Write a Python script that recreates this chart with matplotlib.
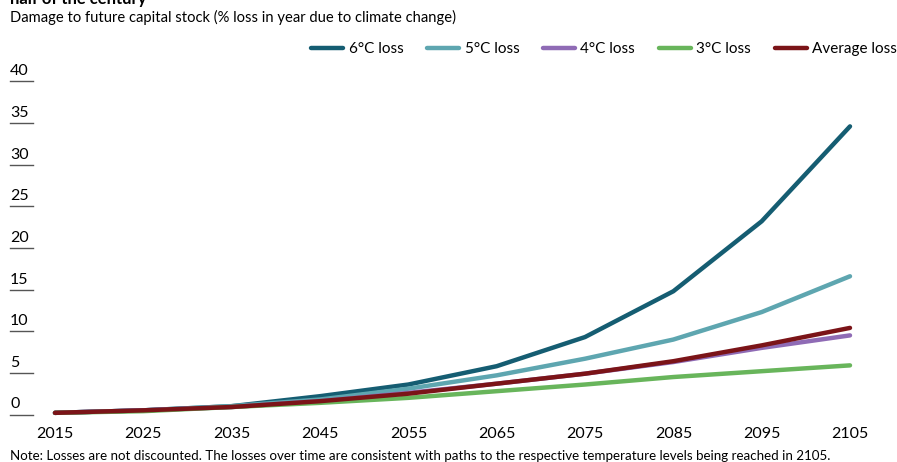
import matplotlib
matplotlib.use("Agg")
import matplotlib.pyplot as plt
from matplotlib import transforms

plt.rcParams['font.family'] = ['Lato', 'DejaVu Sans']

years = [2015, 2025, 2035, 2045, 2055, 2065, 2075, 2085, 2095, 2105]
loss_6c = [0.2, 0.5, 1.0, 2.2, 3.6, 5.8, 9.3, 14.8, 23.2, 34.6]
loss_5c = [0.2, 0.5, 1.0, 1.8, 3.1, 4.7, 6.7, 9.0, 12.3, 16.6]
loss_4c = [0.2, 0.5, 0.9, 1.6, 2.6, 3.7, 4.9, 6.3, 8.0, 9.5]
loss_3c = [0.2, 0.4, 0.9, 1.4, 2.0, 2.8, 3.6, 4.5, 5.2, 5.9]
loss_avg = [0.2, 0.5, 0.9, 1.6, 2.5, 3.7, 4.9, 6.4, 8.3, 10.4]
y_ticks = [0, 5, 10, 15, 20, 25, 30, 35, 40]

W, H = 897, 462
fig = plt.figure(figsize=(W / 100, H / 100), dpi=100)
# axes placed in pixel terms: 2015 -> x=55, 2105 -> x=850, 0 -> y=414.5, 40 -> y=81
ax = fig.add_axes([55 / W, (H - 414.5) / H, (850 - 55) / W, (414.5 - 81.4) / H])
ax.set_xlim(2015, 2105)
ax.set_ylim(0, 40)
for s in ax.spines.values():
    s.set_visible(False)

series = [
    (loss_6c, "#155d72", "6°C loss"),
    (loss_5c, "#5ea6b0", "5°C loss"),
    (loss_4c, "#8f6bb5", "4°C loss"),
    (loss_3c, "#68b55b", "3°C loss"),
    (loss_avg, "#7b1418", "Average loss"),
]
for vals, col, lab in series:
    ax.plot(years, vals, color=col, lw=3.2, label=lab, clip_on=False,
            solid_capstyle="round")

ax.set_xticks(years)
ax.set_xticklabels([str(y) for y in years], fontsize=11.5)
ax.tick_params(axis="x", length=0, pad=9)
ax.set_yticks([])

# y tick labels sit above short underlines at the left edge
tr = transforms.blended_transform_factory(fig.transFigure, ax.transData)
ttr = transforms.offset_copy(tr, fig=fig, y=3, units="dots")
for v in y_ticks:
    ax.text(10 / W, v, str(v), transform=ttr, fontsize=11.5, va="bottom", ha="left")
    ax.plot([10 / W, 33 / W], [v, v], transform=tr, color="#555555", lw=1,
            clip_on=False)

leg = ax.legend(ncol=5, loc="upper right", bbox_to_anchor=(897 / W, (H - 42) / H),
                bbox_transform=fig.transFigure, frameon=False, fontsize=11,
                handlelength=2.1, handletextpad=0.35, columnspacing=1.55,
                borderaxespad=0, borderpad=0)
for l in leg.get_lines():
    l.set_linewidth(3.2)

fig.text(10 / W, (H - 4) / H, "half of the century", fontsize=12, fontweight="bold",
         va="baseline", ha="left")
sub = fig.text(10 / W, (H - 17) / H,
               "Damage to future capital stock (% loss in year due to climate change)",
               fontsize=11, va="center", ha="left")
note = fig.text(10 / W, (H - 456) / H,
                "Note: Losses are not discounted. The losses over time are consistent with paths to the respective temperature levels being reached in 2105.",
                fontsize=11, va="center", ha="left")

# scale the long lines so they span the same width as in the reference
fig.canvas.draw()
rend = fig.canvas.get_renderer()
for t, target in [(sub, 445), (note, 815)]:
    w = t.get_window_extent(rend).width
    t.set_fontsize(t.get_fontsize() * target / w)

fig.savefig("out.png", dpi=100)
